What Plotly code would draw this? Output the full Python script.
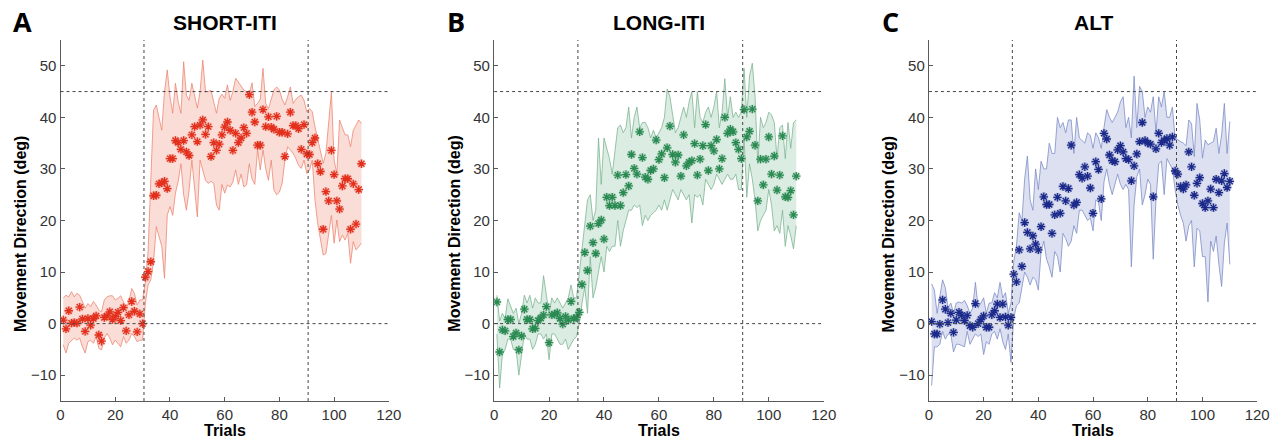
import plotly.graph_objects as go

trials = list(range(1, 111))

a_mean = [0.7, -1.0, 2.5, 0.1, 0.2, 0.1, 3.2, 0.9, -1.5, 1.0,
          -0.3, 1.0, 1.5, -2.2, -3.4, 1.2, 1.5, 2.3, 0.8, 1.4,
          2.2, 0.6, 3.1, -1.4, 1.7, 4.3, 2.4, -1.6, 1.9, 0.0,
          9.0, 10.1, 12.0, 24.8, 24.9, 27.1, 27.3, 27.6, 26.2, 32.0,
          32.0, 35.5, 35.1, 33.8, 35.5, 33.3, 32.6, 36.6, 38.2, 35.3,
          38.5, 39.5, 36.7, 38.2, 32.4, 35.1, 33.6, 34.8, 36.6, 38.1,
          39.1, 37.5, 33.6, 36.9, 35.1, 36.0, 38.0, 36.9, 44.4, 41.0,
          39.1, 34.6, 34.6, 41.5, 38.2, 40.1, 38.1, 37.7, 40.2, 37.1,
          37.1, 32.4, 36.8, 41.0, 38.4, 38.4, 37.8, 33.8, 38.6, 32.9,
          32.8, 35.1, 36.0, 31.0, 29.5, 18.3, 25.6, 23.8, 33.6, 28.9,
          23.8, 22.2, 26.7, 28.1, 28.1, 18.3, 27.1, 19.3, 26.0, 31.0]
a_upper = [5.0, 5.5, 5.2, 6.2, 5.2, 5.9, 5.5, 4.3, 3.0, 3.9,
           3.3, 4.3, 3.6, 2.6, 2.3, 4.6, 5.2, 5.4, 5.4, 4.6,
           4.9, 5.4, 4.3, 3.0, 4.3, 6.8, 5.9, 3.6, 4.6, 4.6,
           8.0, 14.0, 28.0, 41.4, 42.4, 40.0, 37.5, 45.0, 49.2, 44.0,
           40.8, 46.6, 43.0, 40.8, 50.8, 44.3, 43.3, 46.6, 44.0, 41.8,
           45.0, 51.1, 44.9, 45.0, 45.2, 43.0, 40.8, 43.7, 44.5, 43.7,
           46.3, 43.3, 45.0, 47.6, 46.8, 46.0, 45.3, 45.0, 44.6, 46.7,
           42.1, 42.7, 43.5, 49.5, 42.7, 41.7, 43.5, 45.3, 45.9, 45.3,
           43.5, 42.4, 44.0, 45.9, 42.7, 43.5, 44.0, 44.3, 43.3, 41.1,
           41.7, 41.1, 38.2, 35.6, 33.7, 31.1, 33.0, 39.5, 44.9, 31.7,
           29.1, 39.5, 38.0, 36.6, 36.6, 34.3, 37.5, 38.5, 39.5, 38.8]
a_lower = [-4.1, -5.7, -3.8, -3.2, -2.8, -3.2, -2.8, -4.5, -5.7, -3.5,
           -3.2, -3.8, -2.5, -4.8, -5.1, -2.8, -1.9, -2.8, -4.1, -3.2,
           -3.8, -4.5, -2.5, -3.8, -3.2, -1.9, -2.5, -3.5, -3.2, -3.2,
           4.0, 7.5, 8.5, 12.0, 18.8, 17.0, 15.0, 8.8, 21.0, 22.7,
           21.0, 25.3, 27.6, 31.0, 25.0, 22.0, 25.9, 31.7, 26.0, 20.7,
           31.7, 29.8, 27.8, 27.2, 27.6, 27.2, 23.0, 22.0, 27.0, 25.3,
           26.9, 26.5, 27.5, 29.8, 27.0, 29.0, 26.5, 26.9, 31.0, 28.0,
           27.0, 33.7, 29.8, 33.7, 30.0, 27.8, 31.7, 25.9, 25.0, 25.5,
           27.2, 31.7, 34.3, 33.7, 33.0, 32.0, 30.7, 30.1, 31.7, 29.1,
           29.8, 31.7, 24.0, 19.4, 16.0, 13.3, 13.6, 16.9, 21.0, 15.6,
           20.1, 15.9, 17.2, 16.2, 17.5, 11.7, 15.9, 14.3, 14.9, 15.6]

b_mean = [4.2, -5.5, -1.2, -1.4, 0.8, 0.8, -2.5, -1.8, -5.1, -2.4,
          2.8, 0.8, 0.8, -1.0, -0.9, 0.6, 1.1, 1.7, 3.3, -3.7,
          1.7, 1.8, 2.1, 1.0, -0.1, 1.4, 0.7, 4.3, 1.0, 1.2,
          2.2, 7.6, 13.8, 10.3, 18.9, 15.7, 13.6, 19.4, 20.1, 16.4,
          24.5, 22.9, 24.5, 22.9, 28.8, 22.9, 25.4, 28.9, 26.7, 32.8,
          30.1, 29.0, 37.2, 32.2, 28.4, 28.0, 29.7, 30.0, 35.6, 31.8,
          32.9, 28.3, 34.1, 38.3, 32.8, 31.3, 32.7, 28.6, 36.6, 30.6,
          31.3, 31.6, 34.9, 28.8, 31.9, 34.5, 38.6, 29.7, 34.5, 33.5,
          35.7, 30.0, 32.0, 40.0, 36.9, 37.7, 37.2, 35.1, 33.8, 32.0,
          41.5, 36.2, 37.3, 41.6, 34.6, 23.8, 31.9, 26.9, 31.9, 36.2,
          29.0, 32.5, 25.9, 28.8, 36.4, 24.6, 24.5, 25.8, 21.1, 28.6]
b_upper = [5.5, 0.5, 2.0, 1.0, 4.8, 3.5, 2.0, 3.0, 0.0, 2.0,
           5.5, 4.0, 5.5, 3.0, 5.0, 4.0, 4.0, 9.3, 6.0, 2.0,
           5.0, 4.0, 5.0, 4.0, 3.0, 4.0, 5.0, 7.5, 5.0, 5.0,
           10.0, 14.0, 20.0, 24.0, 25.0, 20.0, 22.0, 36.0, 27.0, 36.0,
           34.0, 32.0, 29.0, 33.0, 38.0, 38.5, 37.0, 38.0, 42.0, 36.0,
           40.0, 42.0, 38.0, 39.0, 39.0, 38.0, 36.0, 37.5, 36.0, 37.0,
           38.0, 40.0, 45.5, 44.0, 40.0, 37.0, 38.0, 40.0, 42.0, 40.0,
           43.0, 45.0, 38.0, 45.0, 40.0, 39.0, 41.0, 42.0, 40.0, 42.0,
           45.0, 38.0, 41.0, 47.5, 40.0, 44.0, 40.0, 41.0, 40.0, 41.0,
           49.5, 40.0, 48.0, 50.5, 44.0, 31.0, 40.0, 38.0, 39.0, 41.0,
           40.5, 39.0, 32.0, 38.0, 38.5, 32.0, 39.0, 34.0, 39.0, 39.5]
b_lower = [-2.0, -12.5, -6.0, -5.0, -3.0, -3.0, -5.0, -5.0, -10.0, -6.0,
           -2.0, -3.0, -3.0, -5.0, -4.0, -2.0, -2.0, -3.0, -2.0, -7.0,
           -2.0, -2.0, -3.0, -4.0, -4.0, -3.0, -5.0, -4.0, -3.0, -2.5,
           0.0, 4.0, 7.0, 2.0, 13.0, 5.0, 7.0, 10.0, 13.0, 10.0,
           15.0, 14.0, 15.0, 15.0, 20.0, 15.0, 18.0, 20.0, 22.0, 22.0,
           23.0, 22.5, 23.0, 19.0, 21.0, 20.0, 21.0, 21.5, 22.0, 23.0,
           22.0, 24.0, 22.0, 24.0, 26.0, 25.0, 24.0, 26.0, 25.0, 24.0,
           25.0, 19.5, 25.0, 24.5, 25.0, 23.0, 28.0, 27.0, 26.0, 27.0,
           29.0, 28.0, 27.0, 28.0, 29.0, 28.0, 28.0, 29.0, 26.0, 26.0,
           36.0, 24.5, 31.0, 28.0, 24.0, 18.0, 20.0, 21.0, 22.0, 26.0,
           23.0, 18.0, 19.0, 17.5, 22.0, 15.0, 19.0, 17.0, 14.5, 19.0]

c_mean = [0.4, -2.0, -2.0, -0.1, 4.6, 2.8, 0.2, 2.0, -1.7, 0.7,
          2.2, 1.6, 0.6, 1.6, -0.4, -0.7, 3.9, 0.0, 0.8, 1.5,
          -0.7, -0.7, 1.7, 2.5, 3.8, 1.2, 3.8, 1.3, -0.3, 1.2,
          9.6, 8.1, 14.3, 11.1, 19.6, 17.7, 14.5, 17.0, 15.4, 14.3,
          18.8, 24.6, 23.1, 23.1, 17.5, 21.1, 24.5, 21.4, 26.6, 23.8,
          26.2, 34.6, 23.0, 23.5, 28.9, 28.2, 30.4, 28.6, 26.3, 21.4,
          31.4, 29.9, 24.2, 36.9, 35.8, 32.7, 31.6, 31.4, 33.7, 34.5,
          33.3, 32.0, 31.8, 27.7, 30.6, 32.9, 35.3, 39.0, 35.5, 35.0,
          34.8, 24.6, 33.9, 36.9, 35.1, 35.5, 35.9, 34.6, 36.2, 29.6,
          29.0, 26.6, 26.1, 26.9, 33.3, 30.4, 24.9, 27.2, 28.3, 23.3,
          22.5, 23.8, 26.1, 22.5, 28.0, 25.4, 27.7, 29.1, 26.4, 27.6]
c_upper = [7.7, 6.5, 2.0, 5.0, 8.5, 7.0, 3.0, 4.0, 2.0, 4.0,
           4.2, 4.0, 4.5, 3.5, 2.0, 3.0, 8.0, 3.0, 4.0, 5.0,
           2.0, 4.0, 4.0, 6.0, 5.0, 8.0, 5.0, 6.0, 2.0, 4.0,
           12.0, 15.0, 21.5, 20.0, 28.0, 32.5, 24.0, 22.0, 30.0, 26.0,
           31.5, 30.0, 30.0, 35.0, 33.0, 33.0, 40.0, 38.0, 39.0, 37.0,
           39.5, 39.5, 33.0, 40.0, 36.0, 35.5, 35.0, 37.0, 36.5, 34.0,
           37.0, 36.0, 34.0, 38.0, 41.5, 40.0, 39.0, 40.0, 41.0, 43.0,
           44.0, 38.0, 40.0, 36.0, 48.0, 38.0, 46.0, 45.0, 40.0, 42.0,
           41.0, 44.0, 37.0, 44.0, 42.0, 45.0, 40.0, 40.0, 42.0, 36.0,
           35.6, 35.3, 35.0, 34.5, 39.5, 38.8, 32.4, 42.7, 39.5, 32.1,
           35.6, 34.7, 35.0, 35.3, 37.9, 33.0, 36.6, 42.7, 33.0, 39.2]
c_lower = [-12.0, -4.5, -4.5, -4.0, -1.5, -3.0, -2.0, -2.0, -5.5, -4.0,
           -4.0, -4.2, -4.5, -1.5, -4.0, -3.0, -2.0, -2.5, -2.0, -6.0,
           -3.5, -4.0, -2.0, -1.5, -3.0, -1.0, -3.5, -5.0, -2.0, -7.5,
           1.0, 3.5, 4.0, 7.0, 10.0, 9.0, 7.5, 9.0, 8.5, 6.5,
           14.0, 16.0, 12.5, 11.0, 9.0, 14.0, 13.0, 10.0, 17.5, 16.5,
           15.0, 16.0, 19.0, 17.5, 22.0, 22.0, 21.0, 20.0, 20.5, 18.0,
           24.0, 23.5, 20.0, 27.5, 30.0, 27.0, 25.0, 27.0, 29.0, 27.0,
           26.0, 27.0, 26.0, 11.0, 23.0, 28.5, 30.0, 23.0, 25.0, 28.0,
           27.0, 12.5, 24.0, 31.0, 31.5, 25.0, 32.0, 31.0, 30.0, 26.0,
           23.0, 21.0, 19.5, 16.0, 19.0, 20.0, 11.0, 18.5, 18.0, 13.0,
           13.0, 4.2, 16.0, 14.0, 17.0, 11.5, 7.2, 15.6, 19.5, 11.5]

titles = ["SHORT-ITI", "LONG-ITI", "ALT"]
letters = ["A", "B", "C"]
x_ticks = [0, 20, 40, 60, 80, 100, 120]
y_ticks = [-10, 0, 10, 20, 30, 40, 50]
target = 45
perturb_on, perturb_off = 30.5, 90.5

W, H = 1285, 440
panels = [
    dict(mean=a_mean, up=a_upper, lo=a_lower, mk="#e2301c", halo="rgba(226,48,28,0.2)",
         fill="rgba(240,150,130,0.32)", edge="rgba(236,130,108,0.75)", px=(57.3, 390.0)),
    dict(mean=b_mean, up=b_upper, lo=b_lower, mk="#2a8a52", halo="rgba(42,138,82,0.2)",
         fill="rgba(125,185,150,0.28)", edge="rgba(120,178,142,0.75)", px=(496.7, 830.7)),
    dict(mean=c_mean, up=c_upper, lo=c_lower, mk="#1b2a8a", halo="rgba(27,42,138,0.2)",
         fill="rgba(145,158,208,0.32)", edge="rgba(128,142,200,0.8)", px=(937.3, 1270.0)),
]
ytop, ybot = 40.0, 401.0
ydom = [(H - ybot) / H, (H - ytop) / H]

fig = go.Figure()
annotations = []
shapes = []
font_main = "Liberation Sans, Arial, Helvetica, sans-serif"

for i, p in enumerate(panels):
    n = i + 1
    xa = "x" if n == 1 else f"x{n}"
    ya = "y" if n == 1 else f"y{n}"
    fig.add_trace(go.Scatter(x=trials, y=p["lo"], mode="lines", line=dict(color=p["edge"], width=1),
                             xaxis=xa, yaxis=ya, showlegend=False, hoverinfo="skip"))
    fig.add_trace(go.Scatter(x=trials, y=p["up"], mode="lines", line=dict(color=p["edge"], width=1),
                             fill="tonexty", fillcolor=p["fill"],
                             xaxis=xa, yaxis=ya, showlegend=False, hoverinfo="skip"))
    fig.add_trace(go.Scatter(x=trials, y=p["mean"], mode="markers",
                             marker=dict(symbol="circle", size=9, color=p["halo"], line=dict(width=0)),
                             xaxis=xa, yaxis=ya, showlegend=False, hoverinfo="skip"))
    fig.add_trace(go.Scatter(x=trials, y=p["mean"], mode="markers",
                             marker=dict(symbol="asterisk-open", size=7, color=p["mk"],
                                         line=dict(color=p["mk"], width=1.3)),
                             xaxis=xa, yaxis=ya, showlegend=False))
    x0, x1 = p["px"]
    dom = [x0 / W, x1 / W]
    axis_common = dict(showline=True, linecolor="#5a5a5a", linewidth=1.3, ticks="inside",
                       ticklen=4, tickcolor="#5a5a5a", showgrid=False, zeroline=False,
                       tickfont=dict(family=font_main, size=15, color="#333333"))
    fig.update_layout(**{
        ("xaxis" if n == 1 else f"xaxis{n}"): dict(domain=dom, range=[0, 120], tickvals=x_ticks,
                                                   anchor=ya, **axis_common),
        ("yaxis" if n == 1 else f"yaxis{n}"): dict(domain=ydom, range=[-15, 55], tickvals=y_ticks,
                                                   anchor=xa, **axis_common),
    })
    dot = dict(color="#444444", width=1, dash="dot")
    for yv in (0, target):
        shapes.append(dict(type="line", xref=xa, yref=ya, x0=0, x1=119.5, y0=yv, y1=yv, line=dot))
    for xv in (perturb_on, perturb_off):
        shapes.append(dict(type="line", xref=xa, yref=ya, x0=xv, x1=xv, y0=-15, y1=55, line=dot))
    cx = (x0 + x1) / 2 / W
    annotations.append(dict(text=f"<b>{titles[i]}</b>", x=cx, y=1 - 23 / H, xref="paper", yref="paper",
                            showarrow=False, xanchor="center", yanchor="middle",
                            font=dict(family=font_main, size=21, color="#000")))
    annotations.append(dict(text="<b>Trials</b>", x=cx, y=0, xref="paper", yref="paper",
                            showarrow=False, xanchor="center", yanchor="bottom", borderpad=0,
                            font=dict(family=font_main, size=16, color="#000")))
    annotations.append(dict(text="<b>Movement Direction (deg)</b>", x=(x0 - 41) / W, y=1 - 234 / H,
                            xref="paper", yref="paper", showarrow=False, textangle=-90,
                            xanchor="center", yanchor="middle",
                            font=dict(family=font_main, size=16, color="#000")))
    annotations.append(dict(text=f"<b>{letters[i]}</b>", x=(x0 - 39) / W, y=1 - 21 / H,
                            xref="paper", yref="paper", showarrow=False, xanchor="center",
                            yanchor="middle", font=dict(family="Open Sans, sans-serif", size=27, color="#000")))

fig.update_layout(width=W, height=H, margin=dict(l=0, r=0, t=0, b=0),
                  paper_bgcolor="white", plot_bgcolor="white",
                  shapes=shapes, annotations=annotations)
fig.write_html("out.html", config={"displayModeBar": False})

with open("out.html", "r", encoding="utf-8") as fh:
    html = fh.read()
html = html.replace("<head>", "<head><style>html,body{margin:0;padding:0;overflow:hidden;}</style>", 1)
with open("out.html", "w", encoding="utf-8") as fh:
    fh.write(html)
